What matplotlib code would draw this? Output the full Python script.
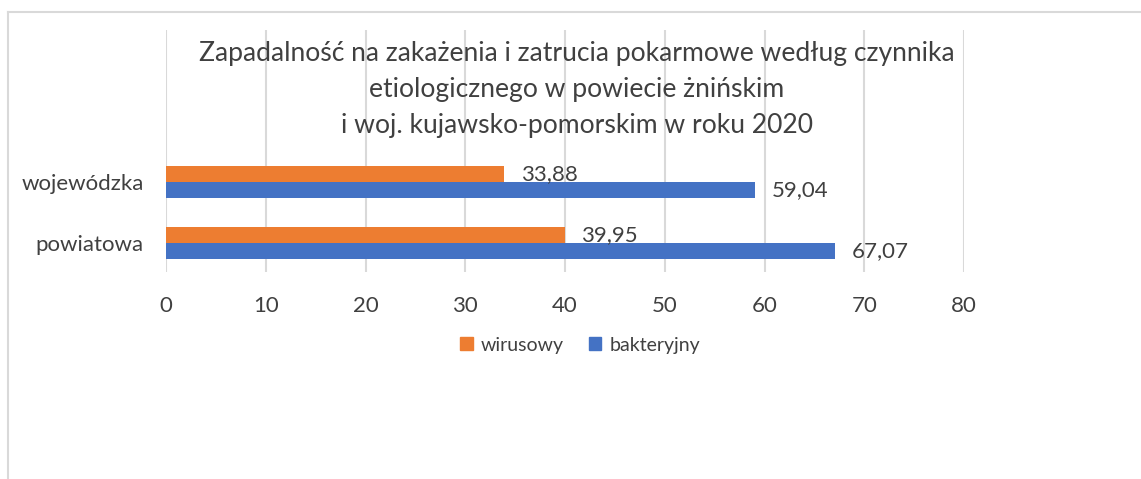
import numpy as np
import matplotlib
matplotlib.use('Agg')
import matplotlib.pyplot as plt
from matplotlib.lines import Line2D
from matplotlib.patches import Patch

# dane
kategorie = ['powiatowa', 'wojewódzka']
wirusowy = [39.95, 33.88]
bakteryjny = [67.07, 59.04]
serie = ['wirusowy', 'bakteryjny']
tytul = ['Zapadalność na zakażenia i zatrucia pokarmowe według czynnika',
         'etiologicznego w powiecie żnińskim',
         'i woj. kujawsko-pomorskim w roku 2020']

kolor_w = '#ED7D31'
kolor_b = '#4472C4'
tekst = '#404040'
siatka = '#d9d9d9'

plt.rcParams['font.family'] = ['Lato', 'DejaVu Sans']

fig = plt.figure(figsize=(11.41, 4.79), dpi=100)
ax = fig.add_axes([166/1141, 1 - 272/479, (964 - 166)/1141, (272 - 30)/479])

y = np.arange(len(kategorie))
h = 0.262
b1 = ax.barh(y + h/2, wirusowy, height=h, color=kolor_w, zorder=3)
b2 = ax.barh(y - h/2, bakteryjny, height=h, color=kolor_b, zorder=3)

# etykiety z przecinkiem
ax.bar_label(b1, labels=[f'{v:.2f}'.replace('.', ',') for v in wirusowy],
             padding=12, fontsize=16, color=tekst)
ax.bar_label(b2, labels=[f'{v:.2f}'.replace('.', ',') for v in bakteryjny],
             padding=12, fontsize=16, color=tekst)

ax.set_xlim(0, 80)
ax.set_xticks(np.arange(0, 81, 10))
ax.set_ylim(-0.475, 3.49)
ax.set_yticks(y)
ax.set_yticklabels(kategorie)
ax.tick_params(axis='both', length=0, labelsize=16, labelcolor=tekst)
ax.tick_params(axis='x', pad=17)
ax.tick_params(axis='y', pad=16)
ax.grid(axis='x', color=siatka, linewidth=1.5, zorder=0)
for s in ax.spines.values():
    s.set_visible(False)

# tytuł - wyśrodkowany, linia po linii
for txt, y0 in zip(tytul, [53, 89, 126]):
    fig.text(577/1141, 1 - y0/479, txt, ha='center', va='center',
             fontsize=19.1, color=tekst)

# legenda
uchwyty = [Patch(color=kolor_w), Patch(color=kolor_b)]
fig.legend(uchwyty, serie, loc='center', bbox_to_anchor=(580/1141, 1 - 345/479),
           ncol=2, frameon=False, fontsize=14, labelcolor=tekst,
           handlelength=0.65, handleheight=0.65, handletextpad=0.4, columnspacing=1.3)

# ramka wykresu
fig.add_artist(Line2D([8/1141, 8/1141], [0, 1 - 12/479], color=siatka, lw=1.5))
fig.add_artist(Line2D([8/1141, 1], [1 - 12/479, 1 - 12/479], color=siatka, lw=1.5))

fig.savefig('out.png', dpi=100)
